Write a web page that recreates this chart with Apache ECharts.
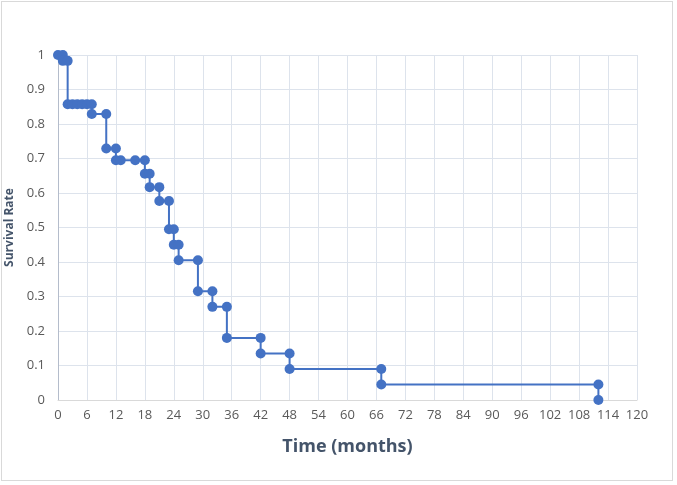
<!DOCTYPE html>
<html lang="en">
<head>
    <meta charset="UTF-8">
    <title>Survival</title>
    <script src="https://cdn.jsdelivr.net/npm/echarts@6/dist/echarts.min.js"></script>
    <style>
        html, body { margin: 0; padding: 0; background: #fff; }
        #chart {
            position: absolute;
            left: 1px; top: 1px;
            width: 672px; height: 480px;
            box-sizing: border-box;
            border: 1px solid #d9d9d9;
        }
    </style>
</head>
<body>
    <div id="chart"></div>
    <script>
        // time (months) of each point, in drawing order
        var times = [0, 1, 1, 2, 2, 3, 4, 5, 6, 7, 7, 10, 10, 12, 12, 13, 16, 18, 18, 19, 19, 21, 21, 23, 23, 24, 24, 25, 25, 29, 29, 32, 32, 35, 35, 42, 42, 48, 48, 67, 67, 112, 112];
        // survival rate of each point
        var survival = [1, 1, 0.983, 0.983, 0.857, 0.857, 0.857, 0.857, 0.857, 0.857, 0.829, 0.829, 0.729, 0.729, 0.695, 0.695, 0.695, 0.695, 0.656, 0.656, 0.617, 0.617, 0.577, 0.577, 0.495, 0.495, 0.45, 0.45, 0.405, 0.405, 0.315, 0.315, 0.27, 0.27, 0.18, 0.18, 0.135, 0.135, 0.09, 0.09, 0.045, 0.045, 0];

        var points = [];
        for (var i = 0; i < times.length; i++) {
            points.push([times[i], survival[i]]);
        }

        var chart = echarts.init(document.getElementById('chart'));
        var labelFont = { color: '#595959', fontSize: 13, fontFamily: 'Open Sans' };

        var option = {
            animation: false,
            grid: { left: 56, right: 35, top: 53, bottom: 80, containLabel: false, outerBoundsMode: 'none' },
            xAxis: {
                type: 'value',
                min: 0,
                max: 120,
                interval: 6,
                name: 'Time (months)',
                nameLocation: 'middle',
                nameGap: 38,
                nameTextStyle: { color: '#44546A', fontSize: 18, fontWeight: 'bold', fontFamily: 'Open Sans' },
                axisLine: { lineStyle: { color: '#d9d9d9' } },
                axisTick: { show: false },
                axisLabel: Object.assign({ margin: 9 }, labelFont),
                splitLine: { show: true, lineStyle: { color: '#dde3ec', width: 1 } }
            },
            yAxis: {
                type: 'value',
                min: 0,
                max: 1,
                interval: 0.1,
                name: 'Survival Rate',
                nameLocation: 'middle',
                nameGap: 37,
                nameTextStyle: { color: '#44546A', fontSize: 12, fontWeight: 'bold', fontFamily: 'Open Sans' },
                axisLine: { show: true, lineStyle: { color: '#b4bccb' } },
                axisTick: { show: false },
                axisLabel: Object.assign({ margin: 13 }, labelFont),
                splitLine: { lineStyle: { color: '#dde3ec', width: 1 } }
            },
            series: [{
                type: 'line',
                data: points,
                symbol: 'circle',
                symbolSize: 10,
                lineStyle: { color: '#4472C4', width: 2 },
                itemStyle: { color: '#4472C4' }
            }]
        };
        chart.setOption(option);
    </script>
</body>
</html>
